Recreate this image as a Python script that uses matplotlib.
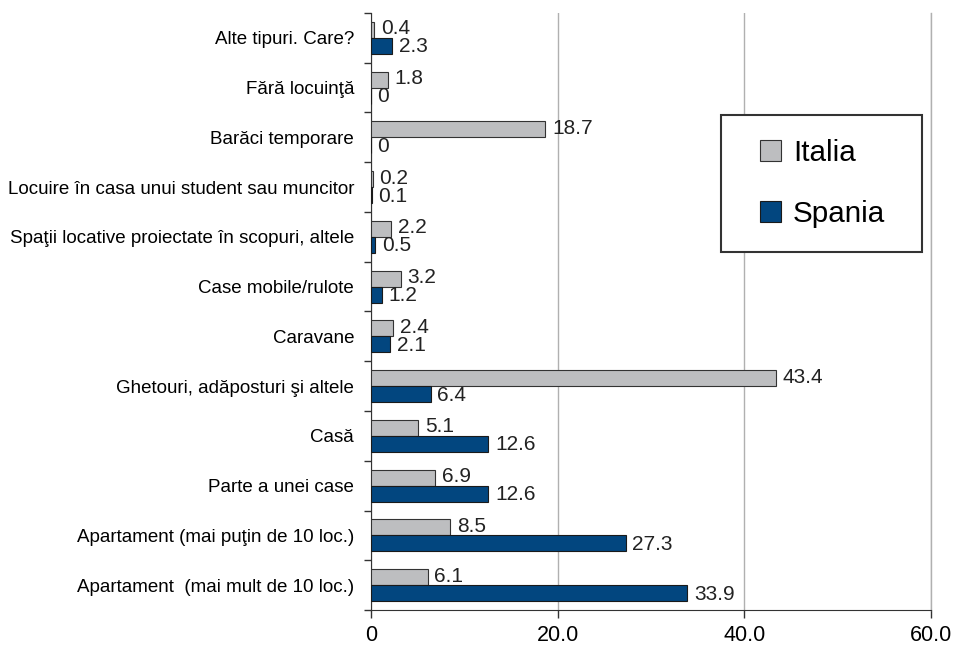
import matplotlib
matplotlib.use("Agg")
import matplotlib.pyplot as plt
from matplotlib.patches import Rectangle
import numpy as np

plt.rcParams['font.family'] = ['Liberation Sans', 'DejaVu Sans']

categories = [
    "Apartament  (mai mult de 10 loc.)",
    "Apartament (mai puţin de 10 loc.)",
    "Parte a unei case",
    "Casă",
    "Ghetouri, adăposturi şi altele",
    "Caravane",
    "Case mobile/rulote",
    "Spaţii locative proiectate în scopuri, altele",
    "Locuire în casa unui student sau muncitor",
    "Barăci temporare",
    "Fără locuinţă",
    "Alte tipuri. Care?",
]
italia = [6.1, 8.5, 6.9, 5.1, 43.4, 2.4, 3.2, 2.2, 0.2, 18.7, 1.8, 0.4]
spania = [33.9, 27.3, 12.6, 12.6, 6.4, 2.1, 1.2, 0.5, 0.1, 0, 0, 2.3]
xticks = [0, 20, 40, 60]
xticklabels = ["0", "20.0", "40.0", "60.0"]

gray = "#bdbec0"
blue = "#02467f"

fig = plt.figure(figsize=(9.58, 6.48), dpi=100)
ax = fig.add_axes([0.387, 0.0586, 0.585, 0.9214])

y = np.arange(len(categories))
h = 0.32
b1 = ax.barh(y + h / 2, italia, height=h, color=gray, edgecolor="#333333", linewidth=0.8, label="Italia", zorder=3)
b2 = ax.barh(y - h / 2, spania, height=h, color=blue, edgecolor="#1a1a1a", linewidth=0.8, label="Spania", zorder=3)

for bar, v in zip(b1, italia):
    ax.text(v + 0.7, bar.get_y() + bar.get_height() / 2 + 0.02, f"{v:g}", va="center", ha="left", fontsize=15, color="#222222")
for bar, v in zip(b2, spania):
    ax.text(v + 0.7, bar.get_y() + bar.get_height() / 2 - 0.02, f"{v:g}", va="center", ha="left", fontsize=15, color="#222222")

ax.set_xlim(0, 60)
ax.set_ylim(-0.5, len(categories) - 0.5)
ax.set_xticks(xticks)
ax.set_xticklabels(xticklabels, fontsize=15.5)
ax.set_yticks(y)
ax.set_yticklabels(categories, fontsize=13.5)
ax.set_yticks(np.arange(-0.5, len(categories), 1), minor=True)
ax.tick_params(axis="y", which="major", length=0, pad=12)
ax.tick_params(axis="y", which="minor", length=5, width=1, color="#333333")
ax.tick_params(axis="x", length=6, width=1, color="#333333", pad=5)

ax.grid(axis="x", color="#b0b0b0", linewidth=1, zorder=0)
ax.spines["top"].set_visible(False)
ax.spines["right"].set_color("#b0b0b0")
ax.spines["right"].set_linewidth(1)
ax.spines["left"].set_color("#333333")
ax.spines["bottom"].set_color("#333333")

# legend frame
frame = Rectangle((0.625, 0.5997), 0.359, 0.2293, transform=ax.transAxes,
                  facecolor="white", edgecolor="#333333", linewidth=1.5, zorder=4)
ax.add_patch(frame)
leg = ax.legend(handles=[b1, b2], loc="center left", bbox_to_anchor=(0.6946, 0.7144),
                fontsize=21.3, frameon=False, borderpad=0, labelspacing=1.1,
                handlelength=0.72, handleheight=0.72, handletextpad=0.4, borderaxespad=0)
leg.set_zorder(5)

fig.savefig("out.png", dpi=100)
